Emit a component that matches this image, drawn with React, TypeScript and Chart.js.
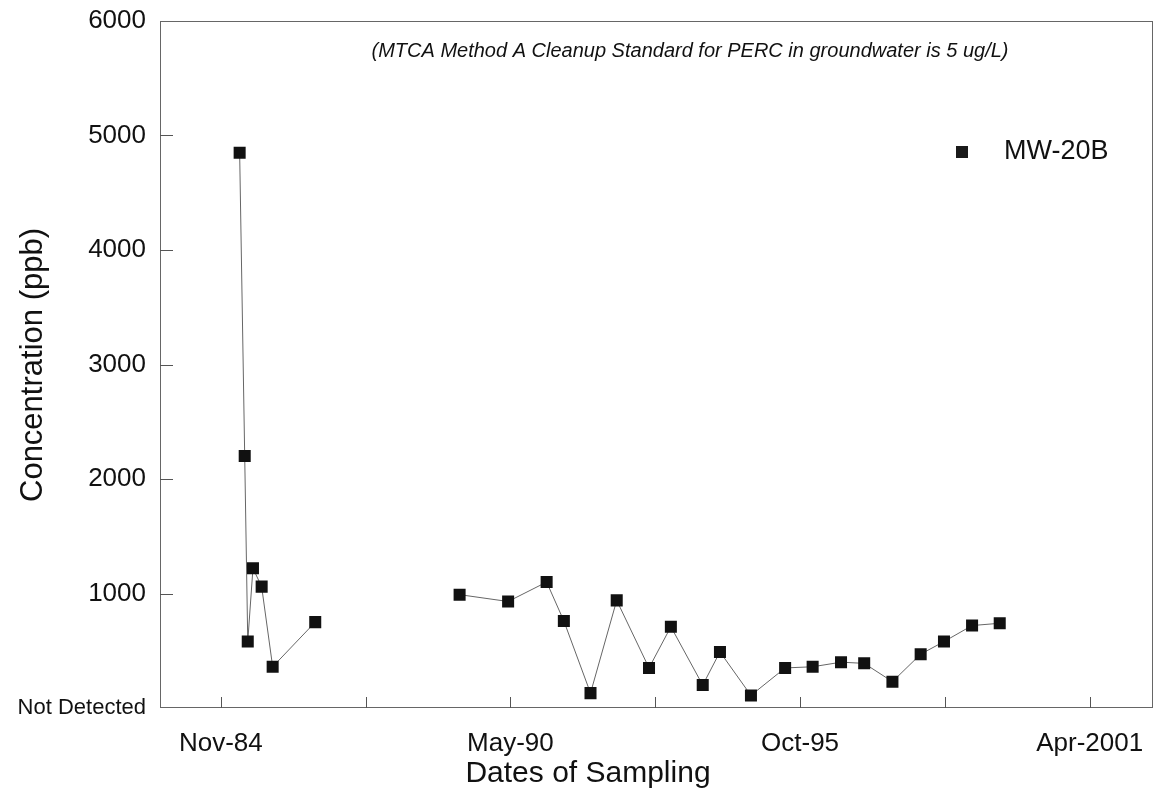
import React, { useEffect, useRef } from "react";
import { Chart, registerables } from "chart.js";

Chart.register(...registerables);

// ---- data ----
const sampleDates = [
  "1985-03-24", "1985-04-28", "1985-05-19", "1985-06-24", "1985-08-23", "1985-11-07",
  "1986-08-28",
  "1989-05-21", "1990-04-21", "1991-01-12", "1991-05-11", "1991-11-11", "1992-05-10",
  "1992-12-19", "1993-05-19", "1993-12-25", "1994-04-23", "1994-11-23", "1995-07-17",
  "1996-01-23", "1996-08-06", "1997-01-13", "1997-07-27", "1998-02-07", "1998-07-18",
  "1999-01-28", "1999-08-07",
];
const concentrations = [
  4850, 2200, 580, 1220, 1060, 360,
  750,
  990, 930, 1100, 760, 130, 940,
  350, 710, 200, 490, 110, 350,
  360, 400, 390, 230, 470, 580,
  720, 740,
];
const xTickSerials = [31000, 32000, 33000, 34000, 35000, 36000, 37000];
const xTickLabels = ["Nov-84", "", "May-90", "", "Oct-95", "", "Apr-2001"];
const yTickValues = [0, 1000, 2000, 3000, 4000, 5000, 6000];
const yTickLabels = ["Not Detected", "1000", "2000", "3000", "4000", "5000", "6000"];
const seriesName = "MW-20B";
const noteText = "(MTCA Method A Cleanup Standard for PERC in groundwater is 5 ug/L)";
const xTitle = "Dates of Sampling";
const yTitle = "Concentration (ppb)";

// Excel-style date serial
const toSerial = (s: string) => {
  const [y, m, d] = s.split("-").map(Number);
  return Date.UTC(y, m - 1, d) / 86400000 + 25569;
};

const FONT = "'Liberation Sans', Arial, Helvetica, sans-serif";
const W = 1161;
const H = 792;

const decorPlugin = {
  id: "decor",
  afterDraw(chart: any) {
    const { ctx, chartArea } = chart;
    const { left, top, right, bottom } = chartArea;
    const xs = chart.scales.x;
    const ys = chart.scales.y;
    ctx.save();
    // frame
    ctx.strokeStyle = "#666";
    ctx.lineWidth = 1;
    ctx.strokeRect(Math.round(left) + 0.5, Math.round(top) + 0.5, Math.round(right - left) - 1, Math.round(bottom - top) - 1);
    // inward ticks
    ctx.beginPath();
    yTickValues.forEach((v) => {
      if (v === 0 || v === 6000) return;
      const y = Math.round(ys.getPixelForValue(v)) + 0.5;
      ctx.moveTo(left, y);
      ctx.lineTo(left + 13, y);
    });
    xTickSerials.forEach((v) => {
      const x = Math.round(xs.getPixelForValue(v)) + 0.5;
      ctx.moveTo(x, bottom);
      ctx.lineTo(x, bottom - 11);
    });
    ctx.strokeStyle = "#555";
    ctx.stroke();

    // axis titles
    ctx.fillStyle = "#111";
    ctx.textAlign = "center";
    ctx.textBaseline = "middle";
    ctx.font = `30px ${FONT}`;
    ctx.fillText(xTitle, 588, 774);
    ctx.save();
    ctx.translate(33, 365);
    ctx.rotate(-Math.PI / 2);
    ctx.font = `31px ${FONT}`;
    ctx.fillText(yTitle, 0, 0);
    ctx.restore();

    // note
    ctx.font = `italic 20px ${FONT}`;
    ctx.fillText(noteText, 690, 51);

    // legend
    ctx.fillStyle = "#1a1a1a";
    ctx.fillRect(956, 146, 12, 12);
    ctx.fillStyle = "#111";
    ctx.textAlign = "left";
    ctx.font = `27px ${FONT}`;
    ctx.fillText(seriesName, 1004, 152);
    ctx.restore();
  },
};

export default function App() {
  const canvasRef = useRef<HTMLCanvasElement | null>(null);

  useEffect(() => {
    document.body.style.margin = "0";
    const canvas = canvasRef.current;
    if (!canvas) return;
    const points = sampleDates.map((d, i) => ({ x: toSerial(d), y: concentrations[i] }));
    const chart = new Chart(canvas, {
      type: "line",
      data: {
        datasets: [
          {
            label: seriesName,
            data: points,
            borderColor: "#666",
            borderWidth: 1,
            backgroundColor: "#111",
            pointStyle: "rect",
            pointRadius: 8.5,
            pointBorderWidth: 0,
            pointBackgroundColor: "#111",
            tension: 0,
            segment: {
              borderColor: (c: any) => (c.p1.parsed.x - c.p0.parsed.x > 700 ? "rgba(0,0,0,0)" : "#666"),
            },
          },
        ],
      },
      plugins: [decorPlugin],
      options: {
        animation: false,
        responsive: false,
        maintainAspectRatio: false,
        layout: { padding: { top: 21, right: 5, left: 0, bottom: 0 } },
        plugins: {
          legend: { display: false },
          tooltip: { enabled: false },
          title: { display: false },
        },
        scales: {
          x: {
            type: "linear",
            min: 30580,
            max: 37434,
            grid: { display: false },
            border: { display: false },
            afterBuildTicks: (s: any) => {
              s.ticks = xTickSerials.map((v) => ({ value: v }));
            },
            afterFit: (s: any) => {
              s.height = 84;
              s.paddingLeft = 0;
              s.paddingRight = 0;
            },
            ticks: {
              autoSkip: false,
              maxRotation: 0,
              padding: 12,
              color: "#111",
              font: { family: FONT, size: 26 },
              callback: (_v: any, i: number) => xTickLabels[i],
            },
          },
          y: {
            type: "linear",
            min: 0,
            max: 6000,
            grid: { display: false },
            border: { display: false },
            afterBuildTicks: (s: any) => {
              s.ticks = yTickValues.map((v) => ({ value: v }));
            },
            afterFit: (s: any) => {
              s.width = 160;
              s.paddingTop = 0;
              s.paddingBottom = 0;
            },
            ticks: {
              autoSkip: false,
              padding: 6,
              color: "#111",
              font: (c: any) => ({ family: FONT, size: c.index === 0 ? 22 : 26 }),
              callback: (_v: any, i: number) => yTickLabels[i],
            },
          },
        },
      },
    } as any);
    return () => chart.destroy();
  }, []);

  return (
    <div style={{ width: W, height: H, background: "#fff" }}>
      <canvas ref={canvasRef} width={W} height={H} style={{ display: "block", width: W, height: H }} />
    </div>
  );
}
